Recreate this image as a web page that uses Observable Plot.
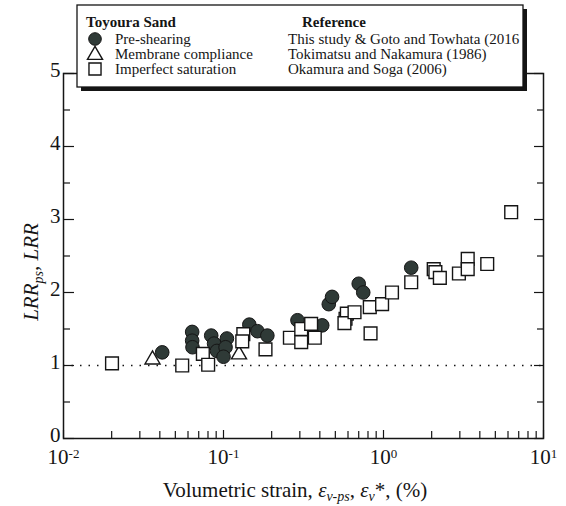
<!DOCTYPE html>
<html><head><meta charset="utf-8">
<script src="https://cdn.jsdelivr.net/npm/d3@7"></script>
<script src="https://cdn.jsdelivr.net/npm/@observablehq/plot@0.6"></script>
<style>body{margin:0;background:#fff} svg, svg text{font-family:"Liberation Serif","Times New Roman",Times,"Nimbus Roman","FreeSerif","Noto Serif","DejaVu Serif",serif !important}</style>
</head><body><div id="chart"></div>
<script>
// Pre-shearing (This study & Goto and Towhata 2016)
const preX = [0.0414, 0.0637, 0.0637, 0.064, 0.0838, 0.0873, 0.091, 0.105, 0.103, 0.100, 0.145, 0.163, 0.188, 0.29, 0.414, 0.455, 0.477, 0.70, 0.747, 1.49];
const preY = [1.18, 1.46, 1.34, 1.25, 1.41, 1.30, 1.20, 1.37, 1.25, 1.12, 1.56, 1.47, 1.41, 1.62, 1.55, 1.84, 1.94, 2.12, 2.00, 2.34];
// Membrane compliance (Tokimatsu and Nakamura 1986)
const memX = [0.036, 0.125];
const memY = [1.08, 1.15];
// Imperfect saturation (Okamura and Soga 2006)
const impX = [0.0201, 0.0552, 0.0743, 0.0802, 0.133, 0.131, 0.183, 0.26, 0.306, 0.306, 0.353, 0.372, 0.579, 0.59, 0.57, 0.659, 0.821, 0.83, 0.98, 1.13, 1.49, 2.06, 2.11, 2.25, 2.96, 3.36, 3.36, 4.45, 6.28];
const impY = [1.03, 1.00, 1.16, 1.01, 1.43, 1.33, 1.22, 1.38, 1.32, 1.50, 1.57, 1.38, 1.64, 1.71, 1.58, 1.73, 1.80, 1.44, 1.84, 2.00, 2.14, 2.32, 2.28, 2.20, 2.26, 2.46, 2.32, 2.39, 3.10];

const xTicks = [0.01, 0.1, 1, 10];
const xTickExps = ["-2", "-1", "0", "1"];
const yTicks = [0, 1, 2, 3, 4, 5];
const yMinor = [0.5, 1.5, 2.5, 3.5, 4.5];
const xMinor = [];
for (const e of [-2, -1, 0]) for (const m of [2,3,4,5,6,7,8,9]) xMinor.push(+(m * Math.pow(10, e)).toPrecision(3));

const pre = preX.map((x, i) => ({x, y: preY[i]}));
const mem = memX.map((x, i) => ({x, y: memY[i]}));
const imp = impX.map((x, i) => ({x, y: impY[i]}));

const W = 566, H = 506, mL = 63, mR = 23, mT = 73, mB = 68;
const pw = W - mL - mR, ph = H - mT - mB;
const ink = "#151515";
const serif = "'Liberation Serif', 'Times New Roman', Times, 'Nimbus Roman', FreeSerif, 'Noto Serif', 'DejaVu Serif', serif";

const chart = Plot.plot({
  width: W, height: H,
  marginLeft: mL, marginRight: mR, marginTop: mT, marginBottom: mB,
  style: {fontFamily: serif, background: "white", color: ink},
  x: {type: "log", domain: [0.01, 10]},
  y: {domain: [0, 5]},
  marks: [
    Plot.ruleY([1], {stroke: ink, strokeWidth: 1.4, strokeDasharray: "1.5,7"}),
    Plot.tickX(xTicks, {x: d => d, insetTop: ph - 8, stroke: ink, strokeWidth: 1.2}),
    Plot.tickX(xMinor, {x: d => d, insetTop: ph - 7, stroke: ink, strokeWidth: 1.2}),
    Plot.tickY(yTicks, {y: d => d, insetRight: pw - 11, stroke: ink, strokeWidth: 1.2}),
    Plot.tickY(yMinor, {y: d => d, insetRight: pw - 7, stroke: ink, strokeWidth: 1.2}),
    Plot.tickY(yTicks, {y: d => d, insetLeft: pw - 9, stroke: ink, strokeWidth: 1.2}),
    Plot.tickY(yMinor, {y: d => d, insetLeft: pw - 6, stroke: ink, strokeWidth: 1.2}),
    Plot.frame({stroke: ink, strokeWidth: 1.5}),
    Plot.axisX(xTicks, {tickSize: 0, tickPadding: 11, fontSize: 21, label: null,
      tickFormat: d => "10|" + xTickExps[xTicks.indexOf(d)]}),
    Plot.axisY(yTicks, {tickSize: 0, tickPadding: 3, fontSize: 21, label: null, dy: -3, tickFormat: d => String(d)}),
    Plot.dot(pre, {x: "x", y: "y", r: 6.8, fill: "#2f3a37", stroke: ink, strokeWidth: 1}),
    Plot.dot(mem, {x: "x", y: "y", symbol: "triangle", r: 5.6, fill: "white", stroke: ink, strokeWidth: 1.4}),
    Plot.dot(imp, {x: "x", y: "y", symbol: "square", r: 7.2, fill: "white", stroke: ink, strokeWidth: 1.4})
  ]
});

const svg = d3.select(chart).attr("font-family", serif).style("font-family", serif);

// superscript exponents on x tick labels
svg.selectAll("text").each(function () {
  const el = d3.select(this);
  const t = el.text();
  if (/^10\|/.test(t)) {
    const exp = t.split("|")[1];
    el.text("10");
    el.append("tspan").attr("font-size", 13).attr("dy", "-0.5em").text(exp);
  }
});

// Y title
const yt = svg.append("text").attr("transform", "translate(38,272) rotate(-90)")
  .attr("text-anchor", "middle").attr("font-size", 21).attr("font-style", "italic").attr("fill", ink);
yt.append("tspan").text("LRR");
yt.append("tspan").attr("font-size", 14).attr("dy", 5).text("ps");
yt.append("tspan").attr("dy", -5).text(", LRR");

// X title
const xt = svg.append("text").attr("x", 295).attr("y", 497).attr("text-anchor", "middle")
  .attr("font-size", 21).attr("fill", ink);
xt.append("tspan").text("Volumetric strain, ");
xt.append("tspan").attr("font-style", "italic").text("\u03B5");
xt.append("tspan").attr("font-style", "italic").attr("font-size", 14).attr("dy", 4).text("v-ps");
xt.append("tspan").attr("dy", -4).text(", ");
xt.append("tspan").attr("font-style", "italic").text("\u03B5");
xt.append("tspan").attr("font-style", "italic").attr("font-size", 14).attr("dy", 4).text("v");
xt.append("tspan").attr("dy", -4).text("*, (%)");

// Legend
const lg = svg.append("g").attr("text-anchor", "start");
lg.append("rect").attr("x", 81).attr("y", 9).attr("width", 446).attr("height", 82).attr("fill", ink);
lg.append("rect").attr("x", 77).attr("y", 5).attr("width", 446).attr("height", 82)
  .attr("fill", "white").attr("stroke", ink).attr("stroke-width", 1.3);
const legendHead = ["Toyoura Sand", "Reference"];
const legendLabels = ["Pre-shearing", "Membrane compliance", "Imperfect saturation"];
const legendRefs = ["This study & Goto and Towhata (2016", "Tokimatsu and Nakamura (1986)", "Okamura and Soga (2006)"];
const fs = 15;
const addText = (x, y, t, bold) => lg.append("text").attr("x", x).attr("y", y)
  .attr("text-anchor", "start").attr("font-size", fs).attr("font-weight", bold ? "bold" : null)
  .attr("fill", ink).text(t);
addText(86, 27, legendHead[0], true);
addText(302, 27, legendHead[1], true);
const rowsY = [44, 59, 74];
legendLabels.forEach((t, i) => {
  addText(115, rowsY[i], t, false);
  addText(288, rowsY[i], legendRefs[i], false);
});
lg.append("path").attr("d", d3.symbol(d3.symbolCircle, Math.PI * 6.3 * 6.3)())
  .attr("transform", "translate(95,39)").attr("fill", "#2f3a37").attr("stroke", ink);
lg.append("path").attr("d", d3.symbol(d3.symbolTriangle, Math.PI * 5.6 * 5.6)())
  .attr("transform", "translate(95,55)").attr("fill", "white").attr("stroke", ink).attr("stroke-width", 1.4);
lg.append("path").attr("d", d3.symbol(d3.symbolSquare, Math.PI * 6.8 * 6.8)())
  .attr("transform", "translate(95,69)").attr("fill", "white").attr("stroke", ink).attr("stroke-width", 1.4);

svg.selectAll("text").attr("font-family", serif).style("font-family", serif);

document.getElementById("chart").appendChild(chart);
</script></body></html>
